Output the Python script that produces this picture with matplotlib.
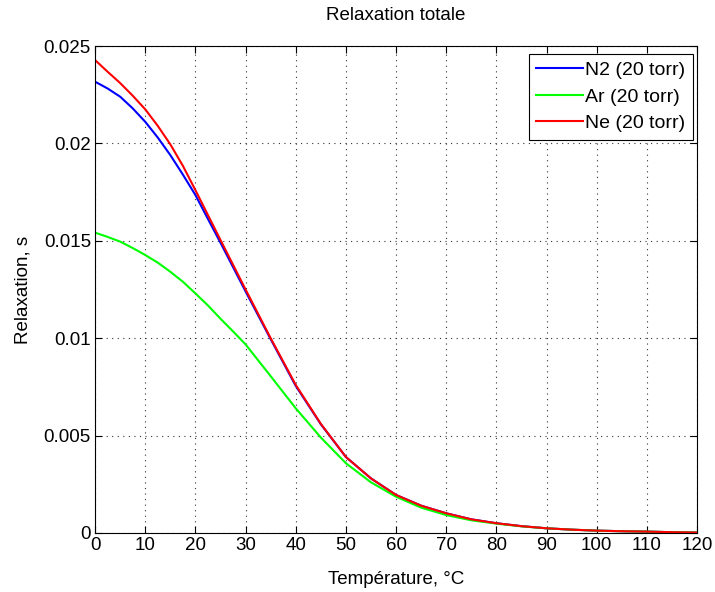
import numpy as np
import matplotlib
matplotlib.use("Agg")
import matplotlib.pyplot as plt
from matplotlib.ticker import FuncFormatter

plt.rcParams['font.family'] = ['Liberation Sans', 'DejaVu Sans']

# temperature, degC
temp = [0, 2.5, 5, 7.5, 10, 12.5, 15, 17.5, 20, 22.5, 25, 27.5, 30, 35, 40,
        45, 50, 55, 60, 65, 70, 75, 80, 85, 90, 95, 100, 105, 110, 115, 120]

n2 = [0.02317, 0.02282, 0.02240, 0.02180, 0.02111, 0.02030, 0.01940, 0.01840,
      0.01735, 0.01612, 0.01490, 0.01365, 0.01240, 0.00995, 0.00755, 0.00558,
      0.00390, 0.00280, 0.00195, 0.00140, 0.00101, 0.00070, 0.00050, 0.00035,
      0.00024, 0.00017, 0.00012, 0.00009, 0.00007, 0.00004, 0.00002]
ar = [0.01542, 0.01520, 0.01496, 0.01463, 0.01427, 0.01388, 0.01341, 0.01290,
      0.01230, 0.01168, 0.01100, 0.01035, 0.00968, 0.00805, 0.00640, 0.00490,
      0.00358, 0.00260, 0.00186, 0.00130, 0.00092, 0.00065, 0.00048, 0.00034,
      0.00024, 0.00017, 0.00012, 0.00009, 0.00007, 0.00004, 0.00002]
ne = [0.02428, 0.02368, 0.02310, 0.02245, 0.02175, 0.02090, 0.01995, 0.01885,
      0.01760, 0.01632, 0.01504, 0.01377, 0.01250, 0.01000, 0.00760, 0.00560,
      0.00390, 0.00280, 0.00195, 0.00140, 0.00101, 0.00070, 0.00050, 0.00035,
      0.00024, 0.00017, 0.00012, 0.00009, 0.00007, 0.00004, 0.00002]

labels = ['N2 (20 torr)', 'Ar (20 torr)', 'Ne (20 torr)']

fig = plt.figure(figsize=(7.15, 5.92), dpi=100)
ax = fig.add_axes([0.133, 0.0997, 0.842, 0.8225])

ax.plot(temp, n2, color=(0, 0, 1), lw=1.5, label=labels[0])
ax.plot(temp, ar, color=(0, 1, 0), lw=1.5, label=labels[1])
ax.plot(temp, ne, color=(1, 0, 0), lw=1.5, label=labels[2])

ax.set_xlim(0, 120)
ax.set_ylim(0, 0.025)
ax.set_xticks(np.arange(0, 121, 10))
ax.set_yticks(np.arange(0, 0.0251, 0.005))
ax.yaxis.set_major_formatter(FuncFormatter(lambda v, p: '%g' % round(v, 4)))
ax.tick_params(direction='in', top=True, right=True, labelsize=13.5,
               length=5, pad=3)
ax.grid(True, linestyle=(0, (1, 4)), color='#333333', linewidth=0.8)
for s in ax.spines.values():
    s.set_linewidth(0.8)

ax.set_title('Relaxation totale', fontsize=13.5, pad=19)
ax.set_xlabel('Température, °C', fontsize=13.5, labelpad=12)
ax.set_ylabel('Relaxation, s', fontsize=13.5, labelpad=9)

leg = ax.legend(loc='upper right', bbox_to_anchor=(0.993, 0.984),
                fontsize=14, fancybox=False, framealpha=1,
                edgecolor='black', handlelength=2.4, borderaxespad=0,
                labelspacing=0.45, handletextpad=0.1, borderpad=0.4)
leg.get_frame().set_linewidth(0.8)

fig.savefig('out.png', dpi=100)
